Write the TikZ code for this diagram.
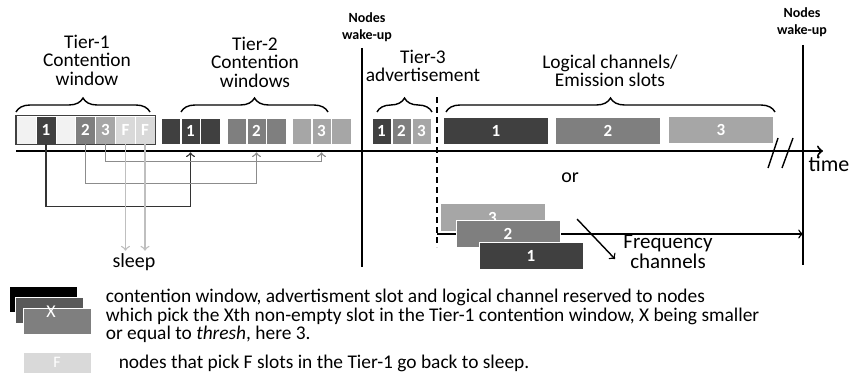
\documentclass[tikz,border=0pt]{standalone}
\usepackage{fontspec}
\setmainfont{Carlito}
\usepackage{tikz}
\usetikzlibrary{decorations.pathreplacing}
\definecolor{slotdark}{RGB}{64,64,64}
\definecolor{slotmid}{RGB}{127,127,127}
\definecolor{slotlight}{RGB}{166,166,166}
\definecolor{slotsleep}{RGB}{217,217,217}
\definecolor{slotempty}{RGB}{242,242,242}
\tikzset{
  % one slot of the tier-1 window
  tslot/.style={rectangle,draw=white,line width=0.3pt,inner sep=0pt,minimum width=9.9pt,minimum height=14pt,text=white,font=\bfseries\fontsize{8.5}{8.5}\selectfont},
  % tier-2 / tier-3 slot
  cslot/.style={tslot,minimum width=9.6pt,minimum height=13pt},
  % emission slot and frequency channel
  eslot/.style={tslot,draw=none,minimum width=52pt,minimum height=13pt},
  % legend boxes
  kbox/.style={rectangle,draw=white,line width=0.3pt,inner sep=0pt,minimum width=34pt,minimum height=13pt},
  % text labels
  lbl/.style={align=center,inner sep=0pt,font=\fontsize{9.7}{9.3}\selectfont},
  wake/.style={align=center,inner sep=0pt,font=\bfseries\fontsize{7}{8.5}\selectfont},
  % braces over the windows
  brc/.style={decorate,decoration={brace,amplitude=7pt},line width=0.7pt},
  % slot-to-slot arrows
  link/.style={->,line width=0.7pt},
  every picture/.style=thick
}
\begin{document}
\begin{tikzpicture}[x=0.5pt,y=-0.5pt]
\useasboundingbox (0,0) rectangle (854,374);
%%%%%%%%%%%%%%%%%%%%%%%%%%%%%%%%%%%%%%% tier-1 window
\node[tslot,fill=slotempty] (w1) at (26,130) {};
\node[tslot,fill=slotdark] (w2) at (46,130) {1};
\node[tslot,fill=slotempty] (w3) at (66,130) {};
\node[tslot,fill=slotmid] (w4) at (85.5,130) {2};
\node[tslot,fill=slotlight] (w5) at (105.5,130) {3};
\node[tslot,fill=slotsleep] (w6) at (125.5,130) {F};
\node[tslot,fill=slotsleep] (w7) at (145,130) {F};
\draw[line width=0.7pt,black!75] (w1.north west) rectangle (w7.south east);
%%%%%%%%%%%%%%%%%%%%%%%%%%%%%%%%%%%%%%% tier-2 windows
\node[cslot,fill=slotdark] (a1) at (170.8,131) {};
\node[cslot,fill=slotdark] (a2) at (190.5,131) {1};
\node[cslot,fill=slotdark] (a3) at (210.2,131) {};
\node[cslot,fill=slotmid] (b1) at (236.8,131) {};
\node[cslot,fill=slotmid] (b2) at (256.5,131) {2};
\node[cslot,fill=slotmid] (b3) at (276.2,131) {};
\node[cslot,fill=slotlight] (c1) at (301.8,131) {};
\node[cslot,fill=slotlight] (c2) at (321.5,131) {3};
\node[cslot,fill=slotlight] (c3) at (341.2,131) {};
%%%%%%%%%%%%%%%%%%%%%%%%%%%%%%%%%%%%%%% tier-3 advertisement
\node[cslot,fill=slotdark] (v1) at (381.5,131) {1};
\node[cslot,fill=slotmid] (v2) at (401.5,131) {2};
\node[cslot,fill=slotlight] (v3) at (421.5,131) {3};
%%%%%%%%%%%%%%%%%%%%%%%%%%%%%%%%%%%%%%% emission slots
\node[eslot,fill=slotdark] (e1) at (496,131) {1};
\node[eslot,fill=slotmid] (e2) at (608,131) {2};
\node[eslot,fill=slotlight] (e3) at (721,130) {3};
%%%%%%%%%%%%%%%%%%%%%%%%%%%%%%%%%%%%%%% braces and titles
\draw[brc] (16,112) -- (150,112);
\draw[brc] (181,112) -- (328,112);
\draw[brc] (377,112) -- (432,112);
\draw[brc] (446,112) -- (775,112);
\node[lbl] (t1) at (87,60) {Tier-1\\Contention\\window};
\node[lbl] (t2) at (255,62) {Tier-2\\Contention\\windows};
\node[lbl] (t3) at (423,66) {Tier-3\\advertisement};
\node[lbl] (lc) at (610,71) {Logical channels/\\Emission slots};
%%%%%%%%%%%%%%%%%%%%%%%%%%%%%%%%%%%%%%% time axis and wake-ups
\coordinate (t0) at (16,151);
\coordinate (tn) at (823,151);
\draw[line width=1pt,->] (t0) -- (tn);
\node[lbl,font=\fontsize{11}{11}\selectfont] (tm) at (829,164) {time};
\draw[line width=0.7pt] (768,168) -- (778,138);
\draw[line width=0.7pt] (782,168) -- (793,138);
\node[wake] (wu1) at (367,27) {Nodes\\wake-up};
\node[wake] (wu2) at (802,22) {Nodes\\wake-up};
\coordinate (wu1a) at (362,48);
\coordinate (wu1b) at (362,267);
\coordinate (wu2a) at (803,45);
\coordinate (wu2b) at (803,265);
\draw[line width=0.8pt] (wu1a) -- (wu1b);
\draw[line width=0.8pt] (wu2a) -- (wu2b);
\coordinate (da) at (437,97);
\coordinate (db) at (437,247);
\draw[line width=0.9pt,dash pattern=on 3pt off 2pt] (da) -- (db);
%%%%%%%%%%%%%%%%%%%%%%%%%%%%%%%%%%%%%%% tier-1 to tier-2 arrows
\draw[link,black!80] (w2.south) -- ++(0,62) -| ([yshift=-4pt]a2.south);
\draw[link,black!45] (w4.south) -- ++(0,39) -| ([yshift=-4pt]b2.south);
\draw[link,black!45] (w5.south) -- ++(0,17) -| ([yshift=-4pt]c2.south);
\node[lbl,font=\fontsize{10}{10}\selectfont] (sl) at (134,262) {sleep};
\draw[link,black!25] (w6.south) -- ([yshift=1pt]w6.south |- sl.north);
\draw[link,black!25] (w7.south) -- ([yshift=1pt]w7.south |- sl.north);
%%%%%%%%%%%%%%%%%%%%%%%%%%%%%%%%%%%%%%% frequency channels
\node[lbl,font=\fontsize{10}{10}\selectfont] (or) at (570,178) {or};
\coordinate (fa) at (437,234);
\draw[link] (fa) -- (fa -| wu2b);
\node[eslot,fill=slotlight,minimum height=13.5pt] (f3) at (492.5,217.5) {3};
\node[eslot,fill=slotmid,minimum height=13.5pt,draw=white] (f2) at (508,234) {2};
\node[eslot,fill=slotdark,minimum height=13.5pt,draw=white] (f1) at (531,255.5) {1};
\coordinate (fd0) at (577,219);
\coordinate (fd1) at (615,259);
\draw[link] (fd0) -- (fd1);
\node[lbl,font=\fontsize{10.5}{10}\selectfont] (fc) at (668,252) {Frequency\\channels};
%%%%%%%%%%%%%%%%%%%%%%%%%%%%%%%%%%%%%%% legend
\node[kbox,fill=black] (k1) at (43,299) {};
\node[kbox,fill=black!65] (k2) at (49.5,310) {};
\node[kbox,fill=slotmid] (k3) at (57,321) {};
\node[text=white,inner sep=0pt,font=\fontsize{9}{9}\selectfont] (kx) at (51,312) {X};
\node[lbl,anchor=west,align=left,font=\fontsize{9.7}{8.25}\selectfont] (kt) at (105,316) {contention window, advertisment slot and logical channel reserved to nodes\\which pick the Xth non-empty slot in the Tier-1 contention window, X being smaller\\or equal to \textit{thresh}, here 3.};
\node[kbox,fill=slotsleep,minimum height=10.5pt,text=white,font=\fontsize{8}{8}\selectfont] (kf) at (57,362.5) {F};
\node[lbl,anchor=west,font=\fontsize{9.7}{9}\selectfont] (kft) at (118,363) {nodes that pick F slots in the Tier-1 go back to sleep.};
\end{tikzpicture}
\end{document}
